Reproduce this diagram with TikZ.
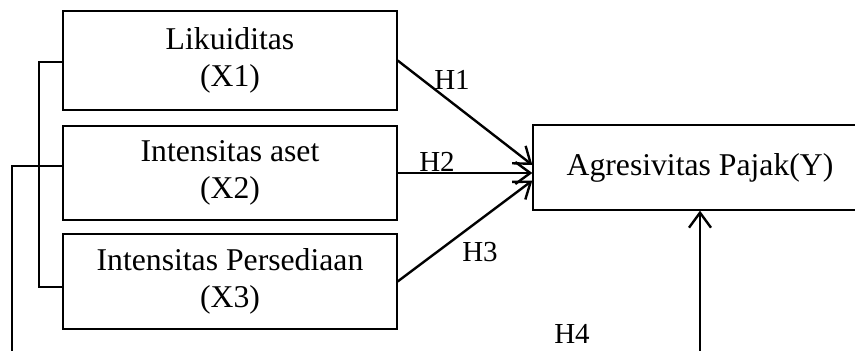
\documentclass[tikz,border=0pt]{standalone}
\usepackage{fontspec}
\setmainfont{Liberation Serif}
\usetikzlibrary{calc,arrows.meta}

\tikzset{
  varbox/.style={draw, line width=1.3pt, rectangle, align=center,
    minimum width=334pt, inner sep=0pt,
    font=\fontsize{31.7}{37.5}\selectfont},
  hyp/.style={line width=2.4pt, -{Straight Barb[length=15pt,width=22pt]}},
  hlbl/.style={anchor=base, font=\fontsize{29}{32}\selectfont},
  brk/.style={line width=1.5pt}
}

\begin{document}
\begin{tikzpicture}[x=1pt, y=-1pt]
  \clip (0,0) rectangle (855,351);

  %--- Variablen
  \node[varbox, minimum height=99pt] (x1) at (230,60.5) {Likuiditas\\(X1)};
  \node[varbox, minimum height=94pt] (x2) at (230,173) {Intensitas aset\\(X2)};
  \node[varbox, minimum height=95pt] (x3) at (230,281.5) {Intensitas Persediaan\\(X3)};
  \node[varbox, minimum height=85pt] (agr) at (700,167.5) {Agresivitas Pajak(Y)};

  %--- Klammer links
  \coordinate (j1) at (39,62);
  \coordinate (j2) at (39,166);
  \coordinate (j3) at (39,287);
  \coordinate (foot) at (12,356);
  \draw[brk] (j1 -| x1.west) -- (j1) -- (j3) -- (j3 -| x3.west);
  \draw[brk] (foot) |- (j2 -| x2.west);

  %--- Hypothesen
  \draw[hyp] (x1.east) -- ($(agr.west)+(0,-2.5)$);
  \draw[hyp] (x2.east) -- (x2.east -| agr.west);
  \draw[hyp] (x3.east) -- ($(agr.west)+(0,13)$);
  \draw[hyp] (agr.south |- foot) -- (agr.south);

  \node[hlbl] (h1) at (452,89) {H1};
  \node[hlbl] (h2) at (437,171) {H2};
  \node[hlbl] (h3) at (480,261) {H3};
  \node[hlbl] (h4) at (572,343) {H4};
\end{tikzpicture}
\end{document}
